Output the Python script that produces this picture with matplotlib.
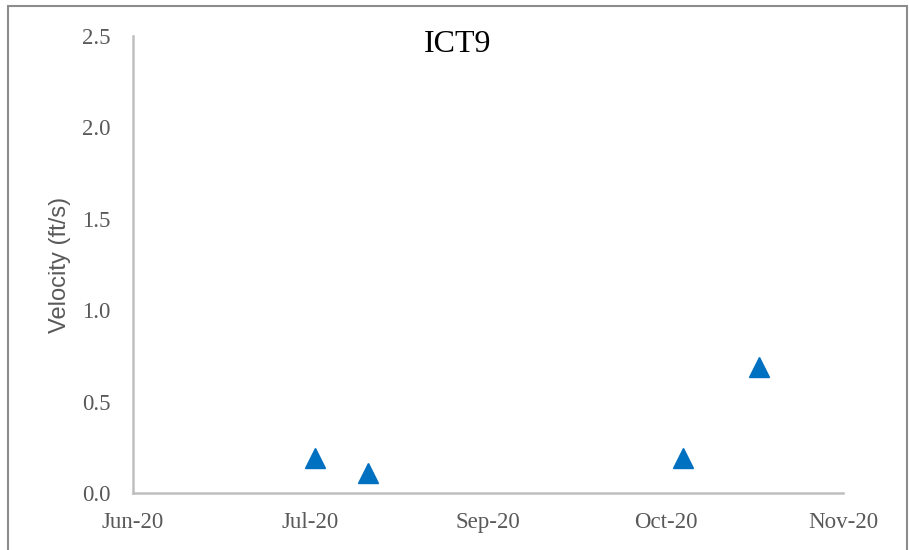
import datetime as dt

import matplotlib
matplotlib.use('Agg')
import matplotlib.pyplot as plt
import matplotlib.dates as mdates
from matplotlib.patches import Rectangle

# site and measured velocities
site = 'ICT9'
sample_dates = ['2020-07-31', '2020-08-12', '2020-10-22', '2020-11-08']
velocity = [0.19, 0.11, 0.19, 0.69]

# date axis (Excel style, fixed major unit)
tick_dates = ['2020-06-20', '2020-07-30', '2020-09-08', '2020-10-18', '2020-11-27']
tick_labels = ['Jun-20', 'Jul-20', 'Sep-20', 'Oct-20', 'Nov-20']
y_ticks = [0.0, 0.5, 1.0, 1.5, 2.0, 2.5]


def to_dates(strs):
    return [dt.datetime.strptime(s, '%Y-%m-%d') for s in strs]


grey_text = '#595959'
axis_grey = '#bfbfbf'

fig = plt.figure(figsize=(9.09, 5.5), dpi=100)
ax = fig.add_axes([133 / 909, 1 - 493 / 550, (843 - 133) / 909, (493 - 36) / 550])

x = mdates.date2num(to_dates(sample_dates))
ax.plot(x, velocity, linestyle='none', marker='^', markersize=15,
        color='#0070c0', markeredgecolor='#0070c0', clip_on=False)

xt = mdates.date2num(to_dates(tick_dates))
ax.set_xlim(xt[0], xt[-1])
ax.set_xticks(xt)
ax.set_xticklabels(tick_labels, family='Liberation Serif', fontsize=16.5, color=grey_text)
ax.set_ylim(0, 2.5)
ax.set_yticks(y_ticks)
ax.set_yticklabels([f'{v:.1f}' for v in y_ticks], family='Liberation Serif',
                   fontsize=16.5, color=grey_text)
ax.tick_params(axis='x', length=0, pad=14)
ax.tick_params(axis='y', length=0, pad=16)

for side in ['top', 'right']:
    ax.spines[side].set_visible(False)
for side in ['left', 'bottom']:
    ax.spines[side].set_color(axis_grey)
    ax.spines[side].set_linewidth(1.8)

ax.set_ylabel('Velocity (ft/s)', family='Liberation Sans', fontsize=17,
              color=grey_text, labelpad=8)

fig.text(458 / 909, 1 - 45 / 550, site, family='Liberation Serif', fontsize=23,
         ha='center', va='center', color='black')

# outer chart frame
fig.patches.append(Rectangle((8 / 909, -0.05), (907 - 8) / 909, 1.05 - 6 / 550,
                             transform=fig.transFigure, fill=False,
                             edgecolor='#8c8c8c', linewidth=1.5))

fig.savefig('out.png', dpi=100)
